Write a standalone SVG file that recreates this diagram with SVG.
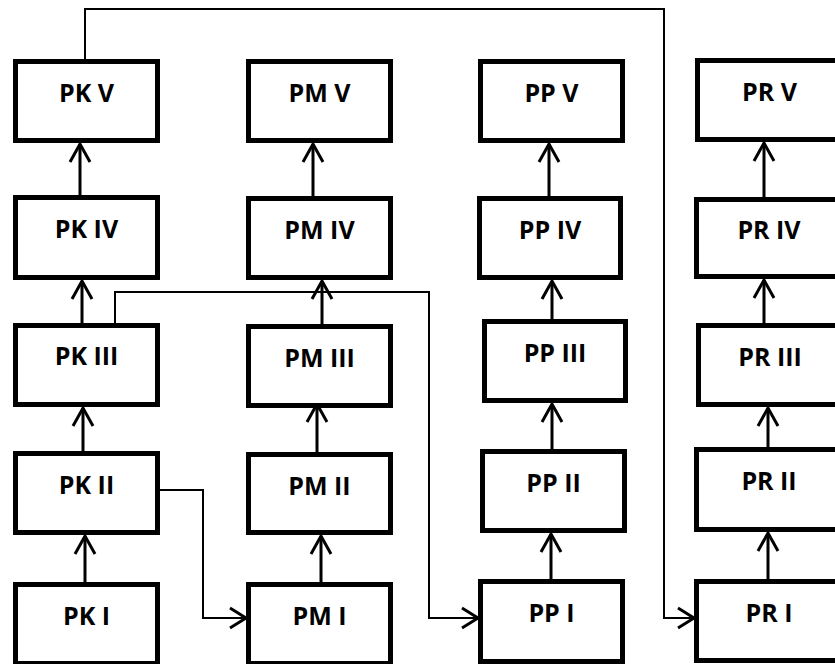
<svg xmlns="http://www.w3.org/2000/svg" width="835" height="664" viewBox="0 0 835 664">
<defs>
<style>
.box{fill:#fff;stroke:#000;stroke-width:5}
.lbl{font-family:"Open Sans","Liberation Sans",sans-serif;font-weight:bold;font-size:25px;fill:#000;text-anchor:middle}
.arr{fill:none;stroke:#000;stroke-width:3;marker-end:url(#ah)}
.con{fill:none;stroke:#000;stroke-width:2;marker-end:url(#ah2)}
</style>
<marker id="ah" markerUnits="userSpaceOnUse" viewBox="-22 -12 24 24" markerWidth="24" markerHeight="24" refX="0" refY="0" orient="auto" overflow="visible">
<path d="M-18,-10 L0,0 L-18,10" fill="none" stroke="#000" stroke-width="3"/>
</marker>
<marker id="ah2" markerUnits="userSpaceOnUse" viewBox="-22 -12 24 24" markerWidth="24" markerHeight="24" refX="0" refY="0" orient="auto" overflow="visible">
<path d="M-16,-10 L0,0 L-16,10" fill="none" stroke="#000" stroke-width="3"/>
</marker>
</defs>
<rect width="835" height="664" fill="#fff"/>
<g id="connectors">
<path class="arr" d="M80,195 V144"/>
<path class="arr" d="M82,323 V281"/>
<path class="arr" d="M83,451 V408"/>
<path class="arr" d="M85,582 V536"/>
<path class="arr" d="M313,196 V144"/>
<path class="arr" d="M322,324 V281"/>
<path class="arr" d="M317,452 V404"/>
<path class="arr" d="M321,582 V536"/>
<path class="arr" d="M549,196 V144"/>
<path class="arr" d="M552,319 V281"/>
<path class="arr" d="M552,449 V404"/>
<path class="arr" d="M551,579 V534"/>
<path class="arr" d="M764,197 V143"/>
<path class="arr" d="M764,323 V280"/>
<path class="arr" d="M768,447 V408"/>
<path class="arr" d="M768,579 V533"/>
<path class="con" d="M85,59 V9 H664 V618 H694"/>
<path class="con" d="M115,323 V292 H429 V618 H478"/>
<path class="con" d="M160,490 H203 V618 H246"/>
</g>
<g id="PK_V"><rect class="box" x="15.5" y="61.5" width="142" height="79"/><text class="lbl" x="86.5" y="102">PK V</text></g>
<g id="PK_IV"><rect class="box" x="15.5" y="197.5" width="142" height="80"/><text class="lbl" x="86.5" y="238">PK IV</text></g>
<g id="PK_III"><rect class="box" x="15.5" y="325.5" width="142" height="79"/><text class="lbl" x="86.5" y="365">PK III</text></g>
<g id="PK_II"><rect class="box" x="15.5" y="453.5" width="142" height="79"/><text class="lbl" x="86.5" y="494">PK II</text></g>
<g id="PK_I"><rect class="box" x="15.5" y="584.5" width="142" height="79"/><text class="lbl" x="86.5" y="625">PK I</text></g>

<g id="PM_V"><rect class="box" x="248.5" y="61.5" width="142" height="79"/><text class="lbl" x="319.5" y="102">PM V</text></g>
<g id="PM_IV"><rect class="box" x="248.5" y="198.5" width="142" height="79"/><text class="lbl" x="319.5" y="239">PM IV</text></g>
<g id="PM_III"><rect class="box" x="248.5" y="326.5" width="142" height="79"/><text class="lbl" x="319.5" y="367">PM III</text></g>
<g id="PM_II"><rect class="box" x="248.5" y="454.5" width="142" height="78"/><text class="lbl" x="319.5" y="495">PM II</text></g>
<g id="PM_I"><rect class="box" x="248.5" y="584.5" width="142" height="79"/><text class="lbl" x="319.5" y="625">PM I</text></g>

<g id="PP_V"><rect class="box" x="480.5" y="61.5" width="142" height="79"/><text class="lbl" x="551.5" y="102">PP V</text></g>
<g id="PP_IV"><rect class="box" x="479.5" y="198.5" width="141" height="79"/><text class="lbl" x="550" y="239">PP IV</text></g>
<g id="PP_III"><rect class="box" x="484.5" y="321.5" width="141" height="79"/><text class="lbl" x="555" y="362">PP III</text></g>
<g id="PP_II"><rect class="box" x="482.5" y="451.5" width="142" height="79"/><text class="lbl" x="553.5" y="492">PP II</text></g>
<g id="PP_I"><rect class="box" x="480.5" y="581.5" width="142" height="80"/><text class="lbl" x="551.5" y="622">PP I</text></g>

<g id="PR_V"><rect class="box" x="697.5" y="60.5" width="145" height="79"/><text class="lbl" x="769.5" y="101">PR V</text></g>
<g id="PR_IV"><rect class="box" x="696.5" y="199.5" width="145" height="77"/><text class="lbl" x="769" y="239">PR IV</text></g>
<g id="PR_III"><rect class="box" x="698.5" y="325.5" width="145" height="79"/><text class="lbl" x="770" y="366">PR III</text></g>
<g id="PR_II"><rect class="box" x="696.5" y="449.5" width="145" height="80"/><text class="lbl" x="769" y="490">PR II</text></g>
<g id="PR_I"><rect class="box" x="696.5" y="581.5" width="145" height="79"/><text class="lbl" x="769" y="622">PR I</text></g>
</svg>
